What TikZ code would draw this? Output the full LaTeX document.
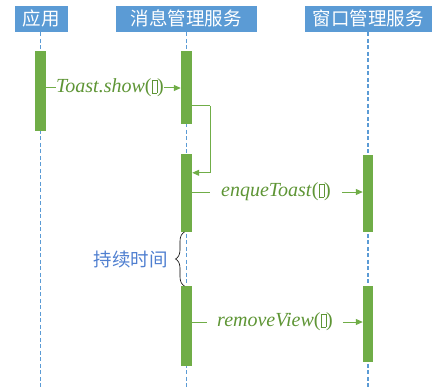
\documentclass[tikz,border=0pt]{standalone}
\usepackage{fontspec}
\setmainfont{Liberation Serif}
\newfontfamily\cjk{Noto Sans CJK SC}
\usetikzlibrary{arrows.meta,decorations.pathreplacing,calc}
\definecolor{hdrblue}{HTML}{5B9BD5}
\definecolor{bargreen}{HTML}{70AD47}
\definecolor{txtgreen}{HTML}{5E9535}
\definecolor{bracetxt}{HTML}{4F7FD0}
\newcommand{\gbox}{{\setlength\fboxsep{0pt}\setlength\fboxrule{0.4pt}\fbox{\rule{0pt}{0.62em}\hspace{0.24em}}}}
\begin{document}
\begin{tikzpicture}[x=1pt,y=-1pt,
  hdr/.style={fill=hdrblue,draw=white,line width=0.6pt,text=white,font=\cjk\fontsize{18.5}{20}\selectfont,minimum height=27pt,inner sep=0pt},
  life/.style={draw=hdrblue,line width=1.1pt,dash pattern=on 4pt off 2.5pt},
  bar/.style={fill=bargreen,draw=none,minimum width=11pt,inner sep=0pt},
  msg/.style={draw=bargreen,line width=1pt},
  arr/.style={msg,-{Triangle[length=7pt,width=6pt]}},
  lbl/.style={text=txtgreen,font=\itshape\fontsize{20}{22}\selectfont,inner ysep=0pt}]
\useasboundingbox (0,0) rectangle (433,390);
% headers
\node[hdr,minimum width=54pt] (app) at (41,18.5) {应用};
\node[hdr,minimum width=142pt] (ms) at (186,18.5) {消息管理服务};
\node[hdr,minimum width=128pt] (ws) at (368,18.5) {窗口管理服务};
% lifeline ends
\coordinate (appE) at (40.5,390);
\coordinate (msE) at (186.5,390);
\coordinate (wsE) at (368,390);
\draw[life] (app.south -| appE) -- (appE);
\draw[life] (ms.south -| msE) -- (msE);
\draw[life] (ws.south -| wsE) -- (wsE);
% activation bars
\node[bar,minimum height=80pt] (a1) at (40.5,91) {};
\node[bar,minimum height=73pt] (m1) at (186.5,87.5) {};
\node[bar,minimum height=78pt] (m2) at (186.5,193) {};
\node[bar,minimum height=80pt] (m3) at (186.5,326) {};
\node[bar,minimum width=10pt,minimum height=77pt] (w1) at (368,193.5) {};
\node[bar,minimum width=10pt,minimum height=76pt] (w2) at (368,324) {};
% Toast.show
\node[lbl,inner xsep=0pt] (l1) at (110,88) {Toast.show\textup{(}\gbox\textup{)}};
\draw[msg] (a1.east |- l1) -- (l1.west);
\draw[arr] (l1.east) -- (m1.west |- l1);
% self call
\coordinate (sc) at (210,106);
\draw[msg] (m1.east |- sc) -- (sc);
\draw[arr] (sc) |- ($(m2.north east)+(0,19)$);
% enqueToast
\node[lbl,inner xsep=11pt] (l2) at (276,192) {enqueToast\textup{(}\gbox\textup{)}};
\draw[msg] (m2.east |- l2) -- (l2.west);
\draw[arr] (l2.east) -- (w1.west |- l2);
% removeView
\node[lbl,inner xsep=10pt] (l3) at (275,322) {removeView\textup{(}\gbox\textup{)}};
\draw[msg] (m3.east |- l3) -- (l3.west);
\draw[arr] (l3.east) -- (w2.west |- l3);
% brace
\coordinate (bb) at (184.5,286);
\coordinate (bt) at (184.5,232);
\draw[black,line width=0.6pt,decorate,decoration={brace,amplitude=9pt}] (bb) -- (bt);
\node[text=bracetxt,font=\cjk\fontsize{18.5}{20}\selectfont,anchor=east,inner sep=0pt] (dur) at (168,259) {持续时间};
\end{tikzpicture}
\end{document}
